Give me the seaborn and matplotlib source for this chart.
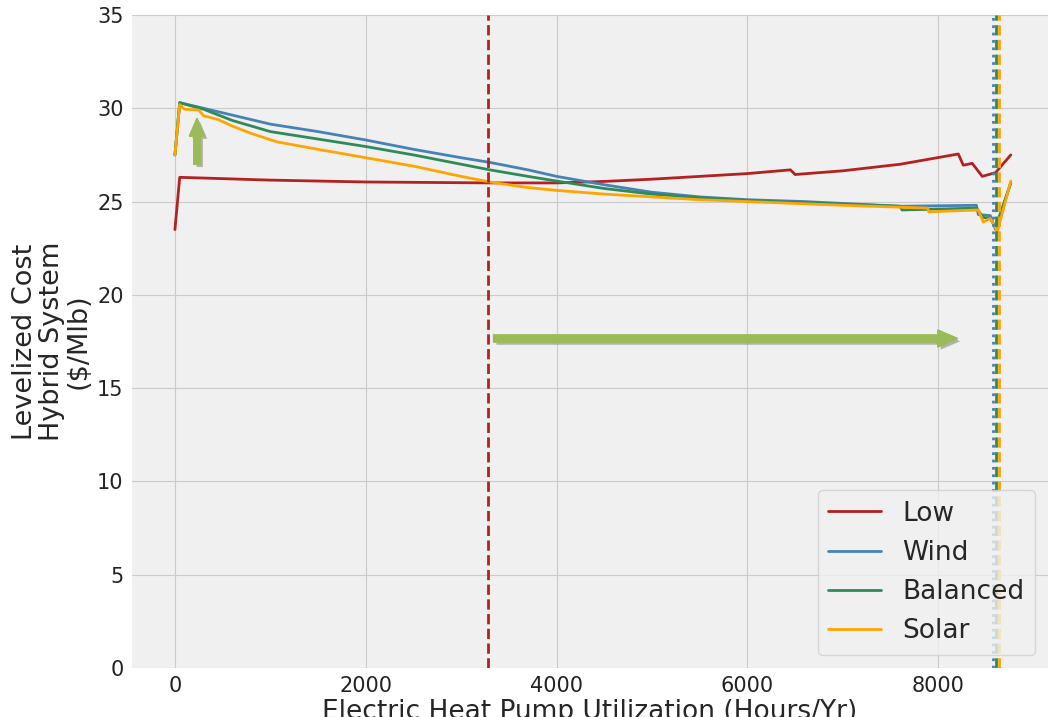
import numpy as np
import pandas as pd
import matplotlib
matplotlib.use("Agg")
import matplotlib.pyplot as plt
import matplotlib.patheffects as pe
import seaborn as sns

# ---------------- data ----------------
low_x = [0, 50, 1000, 2000, 3300, 4000, 4500, 5000, 5500, 6000, 6450, 6500, 7000, 7600, 8210, 8262, 8356, 8461, 8600, 8760]
low_y = [23.5, 26.3, 26.15, 26.05, 26.0, 26.0, 26.08, 26.2, 26.35, 26.5, 26.7, 26.45, 26.65, 27.0, 27.55, 26.95, 27.05, 26.35, 26.55, 27.5]

wind_x = [0, 50, 300, 1000, 1500, 2000, 2500, 3000, 3300, 3700, 4000, 4500, 5000, 5500, 6000, 6600, 7600, 8400, 8420, 8545, 8600, 8760]
wind_y = [27.5, 30.3, 30.0, 29.15, 28.75, 28.3, 27.8, 27.35, 27.1, 26.7, 26.35, 25.9, 25.5, 25.25, 25.1, 25.0, 24.75, 24.8, 24.3, 24.25, 23.5, 26.0]

bal_x = [0, 50, 300, 600, 1000, 1500, 2000, 2500, 3000, 3300, 3700, 4000, 4500, 5000, 5500, 6000, 7600, 7620, 8400, 8472, 8545, 8600, 8760]
bal_y = [27.5, 30.3, 29.95, 29.35, 28.75, 28.35, 27.95, 27.5, 27.0, 26.7, 26.35, 26.1, 25.7, 25.4, 25.2, 25.05, 24.75, 24.55, 24.65, 24.15, 24.1, 23.6, 26.0]

sol_x = [0, 50, 100, 250, 300, 450, 600, 800, 1070, 1500, 2000, 2500, 3000, 3300, 3700, 4000, 4500, 5000, 5500, 6000, 7000, 7890, 7900, 8420, 8472, 8545, 8620, 8760]
sol_y = [27.5, 30.2, 29.95, 29.9, 29.6, 29.4, 29.05, 28.65, 28.2, 27.8, 27.35, 26.9, 26.35, 26.05, 25.75, 25.6, 25.4, 25.25, 25.1, 25.0, 24.8, 24.65, 24.45, 24.55, 23.9, 24.1, 23.4, 26.1]

labels = ["Low", "Wind", "Balanced", "Solar"]
colors = ["#b22222", "#4682b4", "#2e8b57", "#ffa500"]
optimum_x = [3282, 8570, 8606, 8640]
optimum_styles = ["--", ":", "--", "--"]

df = pd.concat([
    pd.DataFrame({"x": low_x, "y": low_y, "scenario": "Low"}),
    pd.DataFrame({"x": wind_x, "y": wind_y, "scenario": "Wind"}),
    pd.DataFrame({"x": bal_x, "y": bal_y, "scenario": "Balanced"}),
    pd.DataFrame({"x": sol_x, "y": sol_y, "scenario": "Solar"}),
], ignore_index=True)

# ---------------- style ----------------
sns.set_style("whitegrid", {
    "axes.facecolor": "#f0f0f0",
    "grid.color": "#cbcbcb",
    "axes.edgecolor": "#f0f0f0",
})
plt.rcParams["font.family"] = ["DejaVu Sans"]

fig = plt.figure(figsize=(10.48, 7.17), dpi=100, facecolor="white")
ax = fig.add_axes([132/1048, 1 - 668/717, (1048 - 132)/1048, (668 - 15)/717])

sns.lineplot(data=df, x="x", y="y", hue="scenario", hue_order=labels,
             palette=dict(zip(labels, colors)), estimator=None, sort=False,
             linewidth=2, ax=ax)

for xv, c, ls in zip(optimum_x, colors, optimum_styles):
    ax.axvline(xv, color=c, linestyle=ls, linewidth=2)

# arrows
shadow = [pe.withSimplePatchShadow(offset=(2, -2), shadow_rgbFace="#888888", alpha=0.6), pe.Normal()]
arr_h = ax.annotate("", xy=(8200, 17.66), xytext=(3340, 17.66),
                    arrowprops=dict(arrowstyle="simple,head_length=0.7,head_width=0.6,tail_width=0.25",
                                    color="#9bbb59", mutation_scale=20, shrinkA=0, shrinkB=0))
arr_h.arrow_patch.set_path_effects(shadow)
arr_v = ax.annotate("", xy=(231, 29.45), xytext=(231, 27.0),
                    arrowprops=dict(arrowstyle="simple,head_length=0.7,head_width=0.6,tail_width=0.25",
                                    color="#9bbb59", mutation_scale=18, shrinkA=0, shrinkB=0))
arr_v.arrow_patch.set_path_effects(shadow)

ax.set_xlim(-450, 9150)
ax.set_ylim(0, 35)
ax.set_xticks([0, 2000, 4000, 6000, 8000])
ax.set_yticks(range(0, 36, 5))
ax.tick_params(axis="both", labelsize=15, length=0, pad=6, colors="#222222")
for s in ax.spines.values():
    s.set_visible(False)

ax.set_xlabel("Electric Heat Pump Utilization (Hours/Yr)", fontsize=19, labelpad=2)
ax.set_ylabel("Levelized Cost\nHybrid System\n($/Mlb)", fontsize=19.5, labelpad=4, linespacing=1.05)

leg = ax.legend(loc="lower right", fontsize=19, fancybox=True, framealpha=0.8,
                facecolor="#f0f0f0", edgecolor="#d0d0d0")
for line in leg.get_lines():
    line.set_linewidth(2)

fig.savefig("out.png", dpi=100, facecolor="white")
